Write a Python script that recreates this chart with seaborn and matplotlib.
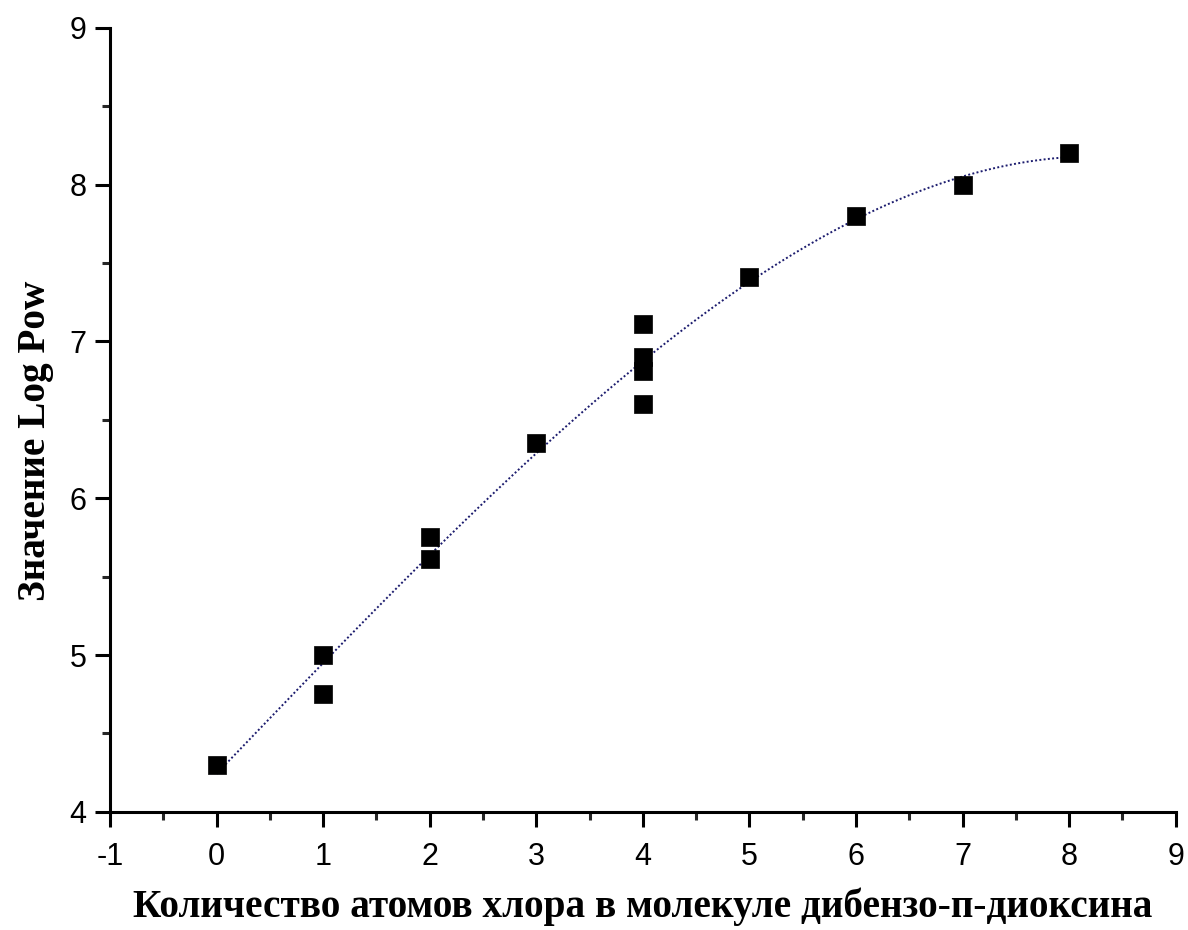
import numpy as np
import pandas as pd
import matplotlib
matplotlib.use("Agg")
import matplotlib.pyplot as plt
from matplotlib.ticker import MultipleLocator
import seaborn as sns

# --- Data ---
chlorine_atoms = [0, 1, 1, 2, 2, 3, 4, 4, 4, 4, 5, 6, 7, 8]
log_pow = [4.30, 5.00, 4.75, 5.75, 5.61, 6.35, 7.11, 6.90, 6.81, 6.60, 7.41, 7.80, 8.00, 8.20]

x_ticks = [-1, 0, 1, 2, 3, 4, 5, 6, 7, 8, 9]
y_ticks = [4, 5, 6, 7, 8, 9]

X_LABEL = "Количество атомов хлора в молекуле дибензо-п-диоксина"
Y_LABEL = "Значение Log Pow"

df = pd.DataFrame({"n_cl": chlorine_atoms, "logpow": log_pow})

sns.set_theme(style="white")
plt.rcParams['font.family'] = ['Liberation Sans', 'DejaVu Sans']
plt.rcParams['axes.unicode_minus'] = False
plt.rcParams['text.color'] = 'black'
plt.rcParams['axes.labelcolor'] = 'black'

fig = plt.figure(figsize=(11.88, 9.3), dpi=100)
ax = fig.add_axes([0.0926, 0.127, 0.897, 0.843])

# fitted curve (polynomial fit through the points)
sns.regplot(data=df, x="n_cl", y="logpow", order=3, ci=None, scatter=False,
            truncate=True, ax=ax,
            line_kws={"color": "#1c1c6e", "linestyle": (0, (1, 1.2)), "linewidth": 1.4})

sns.scatterplot(data=df, x="n_cl", y="logpow", marker="s", s=170, color="black",
                edgecolor="black", linewidth=0.5, ax=ax, zorder=3)

ax.set_xlim(-1, 9)
ax.set_ylim(4, 9)
ax.set_xticks(x_ticks)
ax.set_yticks(y_ticks)
ax.xaxis.set_minor_locator(MultipleLocator(0.5))
ax.yaxis.set_minor_locator(MultipleLocator(0.5))

for side in ["top", "right"]:
    ax.spines[side].set_visible(False)
for side in ["left", "bottom"]:
    ax.spines[side].set_linewidth(2.2)
    ax.spines[side].set_color("black")

ax.tick_params(axis="x", which="major", pad=11)
ax.tick_params(axis="y", which="major", pad=6)
ax.tick_params(axis="both", which="major", direction="out", length=11, width=2.2,
               labelsize=22, colors="black", bottom=True, left=True)
ax.tick_params(axis="both", which="minor", direction="out", length=6, width=2.2,
               bottom=True, left=True)

ax.set_xlabel(X_LABEL, fontsize=28.3, fontweight="bold", color="black",
              family=['Liberation Serif', 'DejaVu Serif'], labelpad=11)
ax.set_ylabel(Y_LABEL, fontsize=28.3, fontweight="bold", color="black",
              family=['Liberation Serif', 'DejaVu Serif'])
ax.yaxis.set_label_coords(-0.053, 0.473)

fig.savefig("out.png", dpi=100, facecolor="white")
